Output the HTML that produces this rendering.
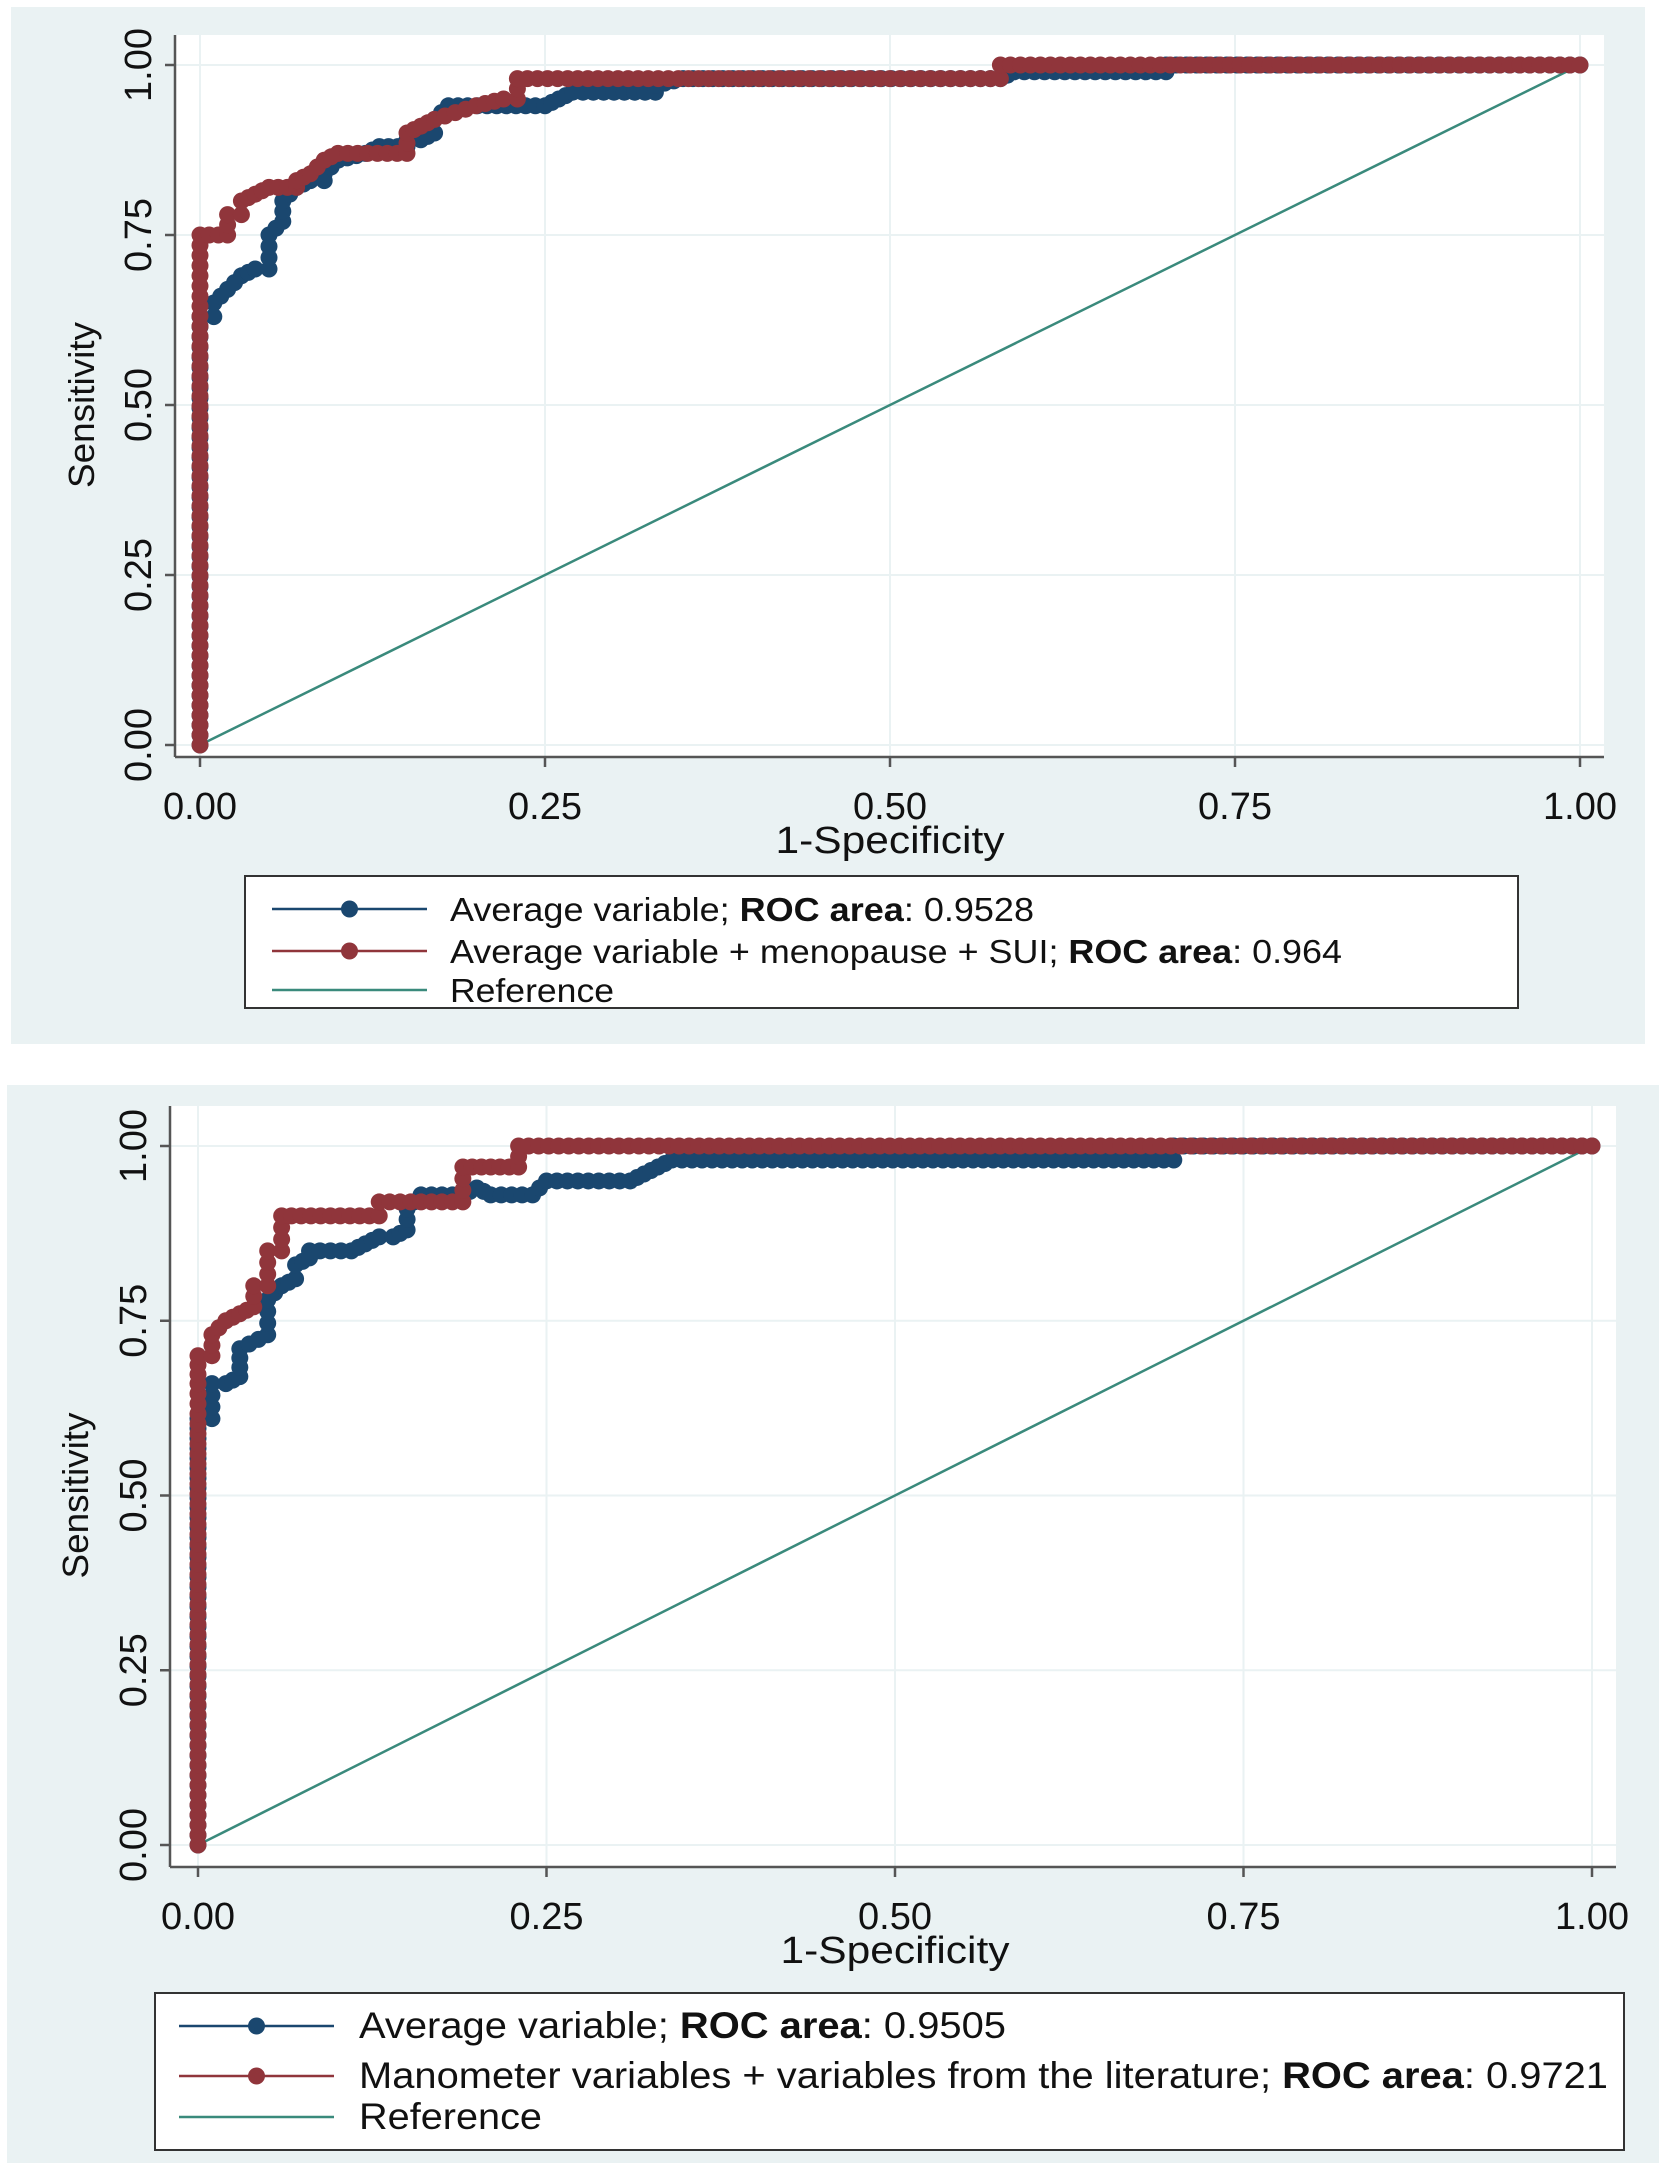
<!DOCTYPE html>
<html><head><meta charset="utf-8"><style>
html,body{margin:0;padding:0;background:#fff}
svg{display:block}
text{font-family:"Liberation Sans",sans-serif}
</style></head><body>
<svg id="root" width="1667" height="2169" viewBox="0 0 1667 2169" xmlns="http://www.w3.org/2000/svg"></svg>
<script>
// ---- data: top chart ----
const topBlueFpr = [0,0,0,0.01,0.01,0.02,0.03,0.04,0.05,0.05,0.06,0.06,0.07,0.08,0.09,0.09,0.10,0.12,0.13,0.15,0.15,0.16,0.17,0.17,0.18,0.25,0.26,0.27,0.33,0.33,0.35,0.58,0.59,0.70,0.70,1.0];
const topBlueTpr = [0,0.51,0.63,0.63,0.65,0.67,0.69,0.70,0.70,0.75,0.77,0.80,0.82,0.83,0.83,0.84,0.86,0.87,0.88,0.88,0.89,0.89,0.90,0.92,0.94,0.94,0.95,0.96,0.96,0.97,0.98,0.98,0.99,0.99,1.0,1.0];
const topRedFpr = [0,0,0,0.02,0.02,0.03,0.03,0.04,0.05,0.07,0.07,0.08,0.09,0.10,0.15,0.15,0.16,0.17,0.20,0.22,0.23,0.23,0.58,0.58,1.0];
const topRedTpr = [0,0.66,0.75,0.75,0.78,0.78,0.80,0.81,0.82,0.82,0.83,0.84,0.86,0.87,0.87,0.90,0.91,0.92,0.94,0.95,0.95,0.98,0.98,1.0,1.0];
// ---- data: bottom chart ----
const botBlueFpr = [0,0,0.01,0.01,0.02,0.03,0.03,0.05,0.05,0.06,0.07,0.07,0.08,0.08,0.11,0.12,0.13,0.14,0.15,0.15,0.16,0.19,0.20,0.21,0.24,0.25,0.31,0.32,0.33,0.34,0.70,0.70,1.0];
const botBlueTpr = [0,0.61,0.61,0.66,0.66,0.67,0.71,0.73,0.78,0.80,0.81,0.83,0.84,0.85,0.85,0.86,0.87,0.87,0.88,0.91,0.93,0.93,0.94,0.93,0.93,0.95,0.95,0.96,0.97,0.98,0.98,1.0,1.0];
const botRedFpr = [0,0,0,0.01,0.01,0.02,0.03,0.04,0.04,0.05,0.05,0.06,0.06,0.13,0.13,0.19,0.19,0.23,0.23,1.0];
const botRedTpr = [0,0.66,0.70,0.70,0.73,0.75,0.76,0.77,0.80,0.80,0.85,0.85,0.90,0.90,0.92,0.92,0.97,0.97,1.0,1.0];
const tickValues = [0,0.25,0.5,0.75,1];
const tickLabels = ["0.00","0.25","0.50","0.75","1.00"];

const NS="http://www.w3.org/2000/svg";
const root=document.getElementById('root');
function mk(tag,attrs,parent){const e=document.createElementNS(NS,tag);for(const k in attrs)e.setAttribute(k,attrs[k]);(parent||root).appendChild(e);return e;}
const BLUE="#1a476f", RED="#90353b", GREEN="#3a8a7c", BG="#eaf2f3";

function chart(cfg){
  const g=mk('g',{});
  
  
  const p=mk('rect',{x:cfg.panel[0],y:cfg.panel[1],width:cfg.panel[2],height:cfg.panel[3],fill:BG},g);
  
  
  const pa=mk('rect',{x:cfg.frame[0],y:cfg.frame[1],width:cfg.frame[2]-cfg.frame[0],height:cfg.frame[3]-cfg.frame[1],fill:"#fff"},g);
  
  
  const X=v=>cfg.x0+v*(cfg.x1-cfg.x0), Y=v=>cfg.y0+v*(cfg.y1-cfg.y0);
  tickValues.forEach((t,i)=>{
    const gx=mk('line',{x1:X(t),x2:X(t),y1:cfg.frame[1],y2:cfg.frame[3],stroke:BG,'stroke-width':2},g);
    
    
    const gy=mk('line',{x1:cfg.frame[0],x2:cfg.frame[2],y1:Y(t),y2:Y(t),stroke:BG,'stroke-width':2},g);
    
    
  });
  const ax=mk('line',{x1:cfg.frame[0],x2:cfg.frame[2],y1:cfg.frame[3],y2:cfg.frame[3],stroke:"#555",'stroke-width':2.5},g);
  
  
  const ay=mk('line',{x1:cfg.frame[0],x2:cfg.frame[0],y1:cfg.frame[1],y2:cfg.frame[3],stroke:"#555",'stroke-width':2.5},g);
  
  
  tickValues.forEach((t,i)=>{
    mk('line',{x1:X(t),x2:X(t),y1:cfg.frame[3],y2:cfg.frame[3]+10,stroke:"#555",'stroke-width':2.5},g);
    mk('line',{x1:cfg.frame[0]-10,x2:cfg.frame[0],y1:Y(t),y2:Y(t),stroke:"#555",'stroke-width':2.5},g);
    const tx=mk('text',{x:X(t),y:cfg.frame[3]+62,'font-size':38,'text-anchor':'middle',fill:"#111"},g);
    tx.textContent=tickLabels[i];
    
    
    const ty=mk('text',{x:0,y:0,'font-size':38,'text-anchor':'middle',fill:"#111",transform:`translate(${cfg.frame[0]-24},${Y(t)}) rotate(-90)`},g);
    ty.textContent=tickLabels[i];
    
    
  });
  const xt=mk('text',{x:X(0.5),y:cfg.frame[3]+96,'font-size':38,'text-anchor':'middle',fill:"#111",textLength:229,lengthAdjust:'spacingAndGlyphs'},g);
  xt.textContent="1-Specificity";
  
  
  const yt=mk('text',{x:0,y:0,'font-size':36,'text-anchor':'middle',fill:"#111",textLength:166,lengthAdjust:'spacingAndGlyphs',transform:`translate(${cfg.yTitleX},${Y(0.5)}) rotate(-90)`},g);
  yt.textContent="Sensitivity";
  
  
  const rl=mk('line',{x1:X(0),y1:Y(0),x2:X(1),y2:Y(1),stroke:GREEN,'stroke-width':2.5},g);
  
  
  function series(fpr,tpr,color,name){
    const sg=mk('g',{},g);
    
    
    const pts=fpr.map((f,i)=>[X(f),Y(tpr[i])]);
    mk('polyline',{points:pts.map(p=>p.join(',')).join(' '),fill:'none',stroke:color,'stroke-width':3},sg);
    for(let i=0;i<pts.length;i++){
      const a=pts[i], b=pts[i+1]||a;
      const d=Math.hypot(b[0]-a[0],b[1]-a[1]);
      const n=Math.max(1,Math.round(d/10));
      for(let k=0;k<(i<pts.length-1?n:1);k++){
        const m=mk('circle',{cx:a[0]+(b[0]-a[0])*k/n,cy:a[1]+(b[1]-a[1])*k/n,r:8.5,fill:color},sg);
        
        
      }
    }
  }
  series(cfg.blue[0],cfg.blue[1],BLUE,'series-average-variable');
  series(cfg.red[0],cfg.red[1],RED,'series-combined-model');
  const L=cfg.legend;
  const lg=mk('g',{},g);
  
  
  mk('rect',{x:L.x,y:L.y,width:L.w,height:L.h,fill:"#fff",stroke:"#333",'stroke-width':2},lg);
  const entries=[[BLUE,true,L.t1,L.len[0]],[RED,true,L.t2,L.len[1]],[GREEN,false,[["Reference",false]],L.len[2]]];
  entries.forEach((e,i)=>{
    const cy=L.y+L.rows[i];
    const en=mk('g',{},lg);
    
    
    mk('line',{x1:L.x+L.lx,x2:L.x+L.lx+L.lw,y1:cy,y2:cy,stroke:e[0],'stroke-width':2.5},en);
    if(e[1]) mk('circle',{cx:L.x+L.lx+L.lw/2,cy:cy,r:8.5,fill:e[0]},en);
    const t=mk('text',{x:L.x+L.tx,y:cy+12,'font-size':L.fs,fill:"#111",textLength:e[3],lengthAdjust:'spacingAndGlyphs'},en);
    e[2].forEach(([s,b])=>{const ts=mk('tspan',b?{'font-weight':'bold'}:{},t);ts.textContent=s;});
  });
}

chart({name:'roc-chart-top',panel:[11,7,1634,1037],frame:[175,35,1604,757],
  x0:200,x1:1580,y0:745,y1:65,yTitleX:94,
  blue:[topBlueFpr,topBlueTpr],red:[topRedFpr,topRedTpr],
  legend:{x:245,y:876,w:1273,h:132,lx:27,lw:155,tx:205,fs:33,rows:[33,75,114],len:[584,892,164],
    t1:[["Average variable; ",false],["ROC area",true],[": 0.9528",false]],
    t2:[["Average variable + menopause  + SUI; ",false],["ROC area",true],[": 0.964",false]]}});
chart({name:'roc-chart-bottom',panel:[7,1085,1652,1078],frame:[170,1106,1616,1867],
  x0:198,x1:1592,y0:1845,y1:1146,yTitleX:88,
  blue:[botBlueFpr,botBlueTpr],red:[botRedFpr,botRedTpr],
  legend:{x:155,y:1993,w:1469,h:157,lx:24,lw:155,tx:204,fs:37,rows:[33,83,124],len:[647,1249,183],
    t1:[["Average variable; ",false],["ROC area",true],[": 0.9505",false]],
    t2:[["Manometer variables + variables from the literature; ",false],["ROC area",true],[": 0.9721",false]]}});
</script>
</body></html>
